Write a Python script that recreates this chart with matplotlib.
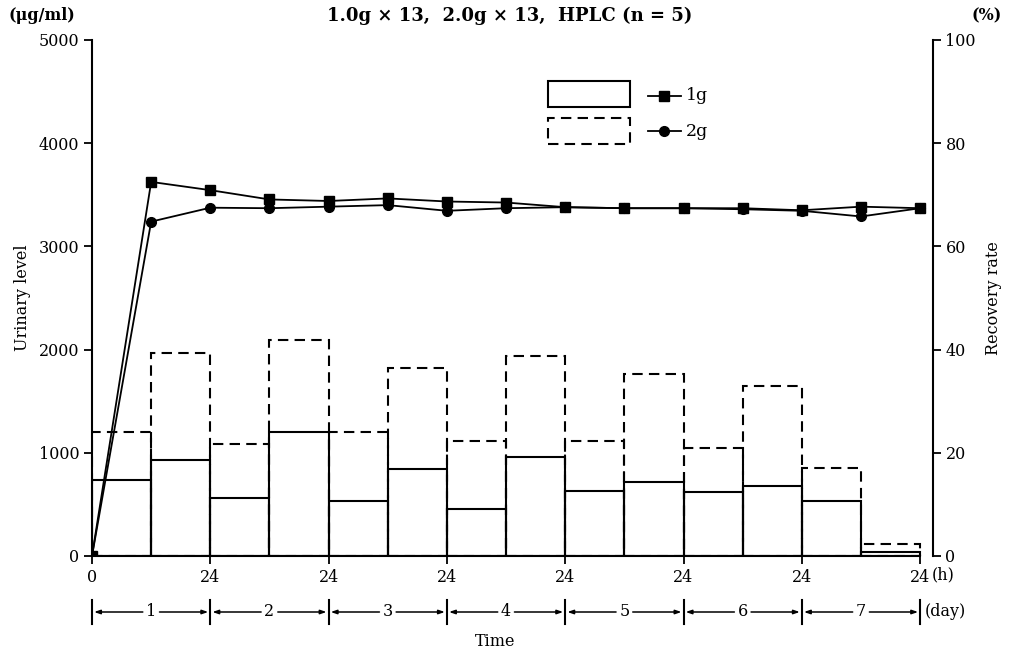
import matplotlib
matplotlib.use('Agg')
import matplotlib.pyplot as plt
import matplotlib.transforms as mtransforms
from matplotlib.patches import Rectangle
from matplotlib.lines import Line2D

plt.rcParams['font.family'] = ['DejaVu Serif']

# ---- data ----
hours = [0, 12, 24, 36, 48, 60, 72, 84, 96, 108, 120, 132, 144, 156, 168]
bar_starts = hours[:-1]
level_1g = [735, 929, 558, 1203, 535, 842, 458, 961, 629, 716, 619, 677, 532, 42]
level_2g = [1197, 1968, 1081, 2097, 1197, 1820, 1119, 1942, 1113, 1760, 1048, 1645, 855, 116]
recovery_1g = [0, 72.5, 70.9, 69.1, 68.8, 69.3, 68.7, 68.5, 67.6, 67.4, 67.4, 67.4, 67.0, 67.7, 67.4]
recovery_2g = [0, 64.8, 67.5, 67.4, 67.7, 68.0, 66.9, 67.4, 67.6, 67.4, 67.4, 67.2, 66.9, 65.8, 67.4]
day_ticks = [0, 24, 48, 72, 96, 120, 144, 168]
xtick_labels = ['0', '24', '24', '24', '24', '24', '24', '24']
day_labels = ['1', '2', '3', '4', '5', '6', '7']
left_ticks = [0, 1000, 2000, 3000, 4000, 5000]
right_ticks = [0, 20, 40, 60, 80, 100]

FS = 11.5
W, H = 1010, 654
fig = plt.figure(figsize=(W / 100, H / 100), dpi=100)
L, R, B, T = 92, 933, 556, 40
ax = fig.add_axes([L / W, 1 - B / H, (R - L) / W, (B - T) / H])

ax.bar(bar_starts, level_2g, width=12, align='edge', fill=False, edgecolor='black',
       linewidth=1.5, linestyle=(0, (5, 3)), zorder=2)
ax.bar(bar_starts, level_1g, width=12, align='edge', fill=False, edgecolor='black',
       linewidth=1.5, zorder=3)

ax.set_xlim(0, 170.6)
ax.set_ylim(0, 5000)
ax.set_xticks(day_ticks)
ax.set_xticklabels(xtick_labels, fontsize=FS)
ax.set_yticks(left_ticks)
ax.set_yticklabels([str(v) for v in left_ticks], fontsize=FS)
ax.tick_params(axis='both', direction='out', length=6, width=1.3, pad=3)
for s in ['top', 'right']:
    ax.spines[s].set_visible(False)
ax.spines['bottom'].set_bounds(0, 168)
ax.spines['left'].set_linewidth(1.5)
ax.spines['bottom'].set_linewidth(1.5)
ax.set_ylabel('Urinary level', fontsize=FS)
ax.yaxis.set_label_coords(-0.072, 0.5)

ax2 = ax.twinx()
ax2.plot(hours, recovery_1g, color='black', lw=1.3, marker='s', markersize=7, zorder=5)
ax2.plot(hours, recovery_2g, color='black', lw=1.3, marker='o', markersize=7, zorder=5)
ax2.set_ylim(0, 100)
ax2.set_yticks(right_ticks)
ax2.set_yticklabels([str(v) for v in right_ticks], fontsize=FS)
ax2.tick_params(axis='y', direction='out', length=6, width=1.3, pad=3)
for s in ['top', 'left', 'bottom']:
    ax2.spines[s].set_visible(False)
ax2.spines['right'].set_linewidth(1.5)
ax2.set_ylabel('Recovery rate', fontsize=FS)
ax2.yaxis.set_label_coords(1.062, 0.5)

# "(h)" after last tick label
trans = mtransforms.blended_transform_factory(ax.transData, ax.transAxes)
ax.annotate('(h)', xy=(168, 0), xycoords=trans, xytext=(8.2, -7.4),
            textcoords='offset points', ha='left', va='top', fontsize=FS)

# day row
yrow = (B - 612) / (B - T)
for i, lab in enumerate(day_labels):
    x0, x1 = day_ticks[i], day_ticks[i + 1]
    mid = (x0 + x1) / 2
    ax.text(mid, yrow, lab, transform=trans, ha='center', va='center', fontsize=FS)
    for xe in (x0, x1):
        ax.annotate('', xy=(xe, yrow), xycoords=trans, xytext=(mid, yrow), textcoords=trans,
                    arrowprops=dict(arrowstyle='-|>,head_length=0.35,head_width=0.12',
                                    lw=1.1, color='black', shrinkA=6, shrinkB=1.5))
for xb in day_ticks:
    ax.add_line(Line2D([xb, xb], [yrow - 0.024, yrow + 0.024], transform=trans,
                       color='black', lw=1.5, clip_on=False))
ax.annotate('(day)', xy=(168, yrow), xycoords=trans, xytext=(3, 0),
            textcoords='offset points', ha='left', va='center', fontsize=FS)

fig.text(495 / W, 1 - 642 / H, 'Time', ha='center', va='center', fontsize=FS)
fig.text(510 / W, 1 - 16 / H, '1.0g × 13,  2.0g × 13,  HPLC (n = 5)', ha='center',
         va='center', fontsize=13, fontweight='bold')
fig.text(8 / W, 1 - 16 / H, '(μg/ml)', ha='left', va='center', fontsize=FS, fontweight='bold')
fig.text(1002 / W, 1 - 16 / H, '(%)', ha='right', va='center', fontsize=FS, fontweight='bold')

# legend
def ax_x(px):
    return (px - L) / (R - L)

def ax_y(py):
    return (B - py) / (B - T)

ax.add_patch(Rectangle((ax_x(548), ax_y(107)), ax_x(630) - ax_x(548), ax_y(81) - ax_y(107),
                       transform=ax.transAxes, fill=False, edgecolor='black', lw=1.5,
                       clip_on=False, zorder=6))
ax.add_patch(Rectangle((ax_x(548), ax_y(144)), ax_x(630) - ax_x(548), ax_y(118) - ax_y(144),
                       transform=ax.transAxes, fill=False, edgecolor='black', lw=1.5,
                       linestyle=(0, (5, 3)), clip_on=False, zorder=6))
for py, mk, lab in [(96, 's', '1g'), (131, 'o', '2g')]:
    ax.add_line(Line2D([ax_x(648), ax_x(681)], [ax_y(py), ax_y(py)], transform=ax.transAxes,
                       color='black', lw=1.3, clip_on=False, zorder=6))
    ax.add_line(Line2D([ax_x(664)], [ax_y(py)], transform=ax.transAxes, marker=mk,
                       markersize=7, color='black', clip_on=False, zorder=6))
    ax.text(ax_x(686), ax_y(py), lab, transform=ax.transAxes, ha='left', va='center',
            fontsize=FS + 1)

fig.savefig('out.png', dpi=100)
